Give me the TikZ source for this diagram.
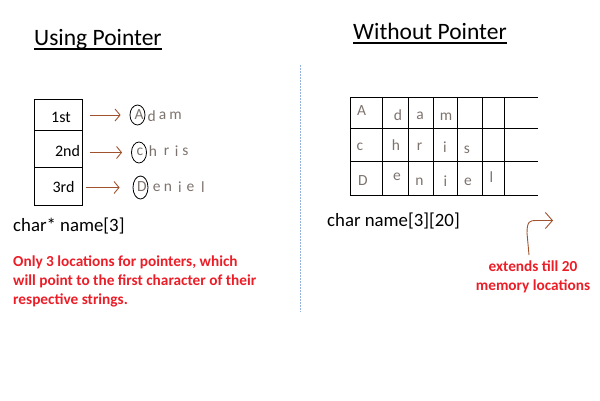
\documentclass[tikz,border=0pt]{standalone}
\usepackage{fontspec}
\setmainfont{Carlito}
\usetikzlibrary{arrows.meta,shapes.geometric,calc}
\definecolor{ptr}{RGB}{160,82,45}
\definecolor{lett}{RGB}{125,115,110}
\definecolor{note}{RGB}{235,30,40}
\definecolor{sep}{RGB}{150,180,220}
\begin{document}
\begin{tikzpicture}[x=1pt,y=-1pt,
  title/.style={anchor=base west,inner sep=0,font=\fontsize{23.5}{28}\selectfont},
  code/.style={anchor=base west,inner sep=0,font=\fontsize{18.8}{22}\selectfont},
  note/.style={inner sep=0,text=note,font=\bfseries\fontsize{15.3}{19}\selectfont},
  cell/.style={draw,line width=1pt,minimum width=48.4pt,inner sep=0,outer sep=0},
  idx/.style={inner sep=0,font=\fontsize{16}{18}\selectfont},
  ch/.style={inner sep=0,text=lett,font=\fontsize{15.5}{18}\selectfont},
  gch/.style={inner sep=0,text=lett,font=\fontsize{15.5}{16}\selectfont},
  ring/.style={ellipse,draw,line width=0.8pt,minimum width=15pt,minimum height=20pt,inner sep=0},
  ptrarrow/.style={draw=ptr,line width=0.9pt,-{Straight Barb[length=5pt,width=12pt]}},
  grid/.style={line width=1pt}
]
\useasboundingbox (0,0) rectangle (600,400);

% titles
\node[title] (t1) at (34,45) {Using Pointer};
\node[title] (t2) at (353,39) {Without Pointer};
\draw[line width=1.4pt] ($(t1.base west)+(0,4)$) -- ($(t1.base east)+(0,4)$);
\draw[line width=1.4pt] ($(t2.base west)+(0,4)$) -- ($(t2.base east)+(0,4)$);

% separator
\coordinate (s1) at (300,65);
\coordinate (s2) at (300,312);
\draw[sep,line width=0.9pt,dash pattern=on 1.5pt off 1.5pt] (s1) -- (s2);

% pointer array
\node[cell,minimum height=31pt] (c1) at (58.5,114.5) {};
\node[cell,minimum height=37pt] (c2) at (58.5,148.5) {};
\node[cell,minimum height=38pt] (c3) at (58.5,186) {};
\node[idx] (i1) at (61,117) {1st};
\node[idx] (i2) at (67.5,151) {2nd};
\node[idx] (i3) at (63.5,187) {3rd};

% strings
\node[ring] (r1) at (137.5,115) {};
\node[ch] (a1) at (139,115) {A};
\node[ch] (a2) at (151.7,116) {d};
\node[ch] (a3) at (162.7,116) {a};
\node[ch] (a4) at (175.5,116) {m};

\node[ring,minimum height=21pt] (r2) at (139,152.5) {};
\node[ch] (b1) at (140,152) {c};
\node[ch] (b2) at (153,151) {h};
\node[ch] (b3) at (166.7,152) {r};
\node[ch] (b4) at (176.7,151) {i};
\node[ch] (b5) at (185.5,152) {s};

\node[ring,minimum height=23pt] (r3) at (140.5,187.5) {};
\node[ch] (d1) at (142,187) {D};
\node[ch] (d2) at (156.7,188) {e};
\node[ch] (d3) at (168,188) {n};
\node[ch] (d4) at (180,187) {i};
\node[ch] (d5) at (190.5,188) {e};
\node[ch] (d6) at (203,187) {l};

\draw[ptrarrow,shorten <=7pt,shorten >=9pt] (c1.east |- r1) -- (r1.west);
\draw[ptrarrow,shorten <=7pt,shorten >=9pt] (c2.east |- r2) -- (r2.west);
\draw[ptrarrow,shorten <=3pt,shorten >=13pt] (c3.east |- r3) -- (r3.west);

\node[code] (k1) at (13,231.5) {char* name[3]};
\node[note,align=left,anchor=base west] (n1) at (13,304.5) {Only 3 locations for pointers, which\\will point to the first character of their\\respective strings.};

% 2D array grid
\foreach \y in {97,128.5,161.5,195} \draw[grid] (350,\y) -- (538,\y);
\foreach \x in {350,382,408,433,457,482,504} \draw[grid] (\x,97) -- (\x,195);

\node[gch] (g11) at (361.7,111) {A};
\node[gch] (g12) at (398,115) {d};
\node[gch] (g13) at (420,116) {a};
\node[gch] (g14) at (446,117) {m};
\node[gch] (g21) at (360,147) {c};
\node[gch] (g22) at (396,145) {h};
\node[gch] (g23) at (419.5,147) {r};
\node[gch] (g24) at (445,147) {i};
\node[gch] (g25) at (467,150) {s};
\node[gch] (g31) at (363,181) {D};
\node[gch] (g32) at (397,177) {e};
\node[gch] (g33) at (419.5,182) {n};
\node[gch] (g34) at (445.5,181) {i};
\node[gch] (g35) at (468,182) {e};
\node[gch] (g36) at (491.5,177) {l};

\node[code] (k2) at (327,226) {char name[3][20]};

% curved arrow
\coordinate (ca) at (529,255);
\coordinate (cb) at (553,220.5);
\draw[draw=ptr,line width=0.9pt,-{Straight Barb[length=7pt,width=16pt]}]
  (ca) -- (527,233) .. controls (527,221) and (530,220.5) .. (536,220.5) -- (cb);

\node[note,align=center,anchor=base] (n2) at (533,290.5) {extends till 20\\memory locations};
\end{tikzpicture}
\end{document}
